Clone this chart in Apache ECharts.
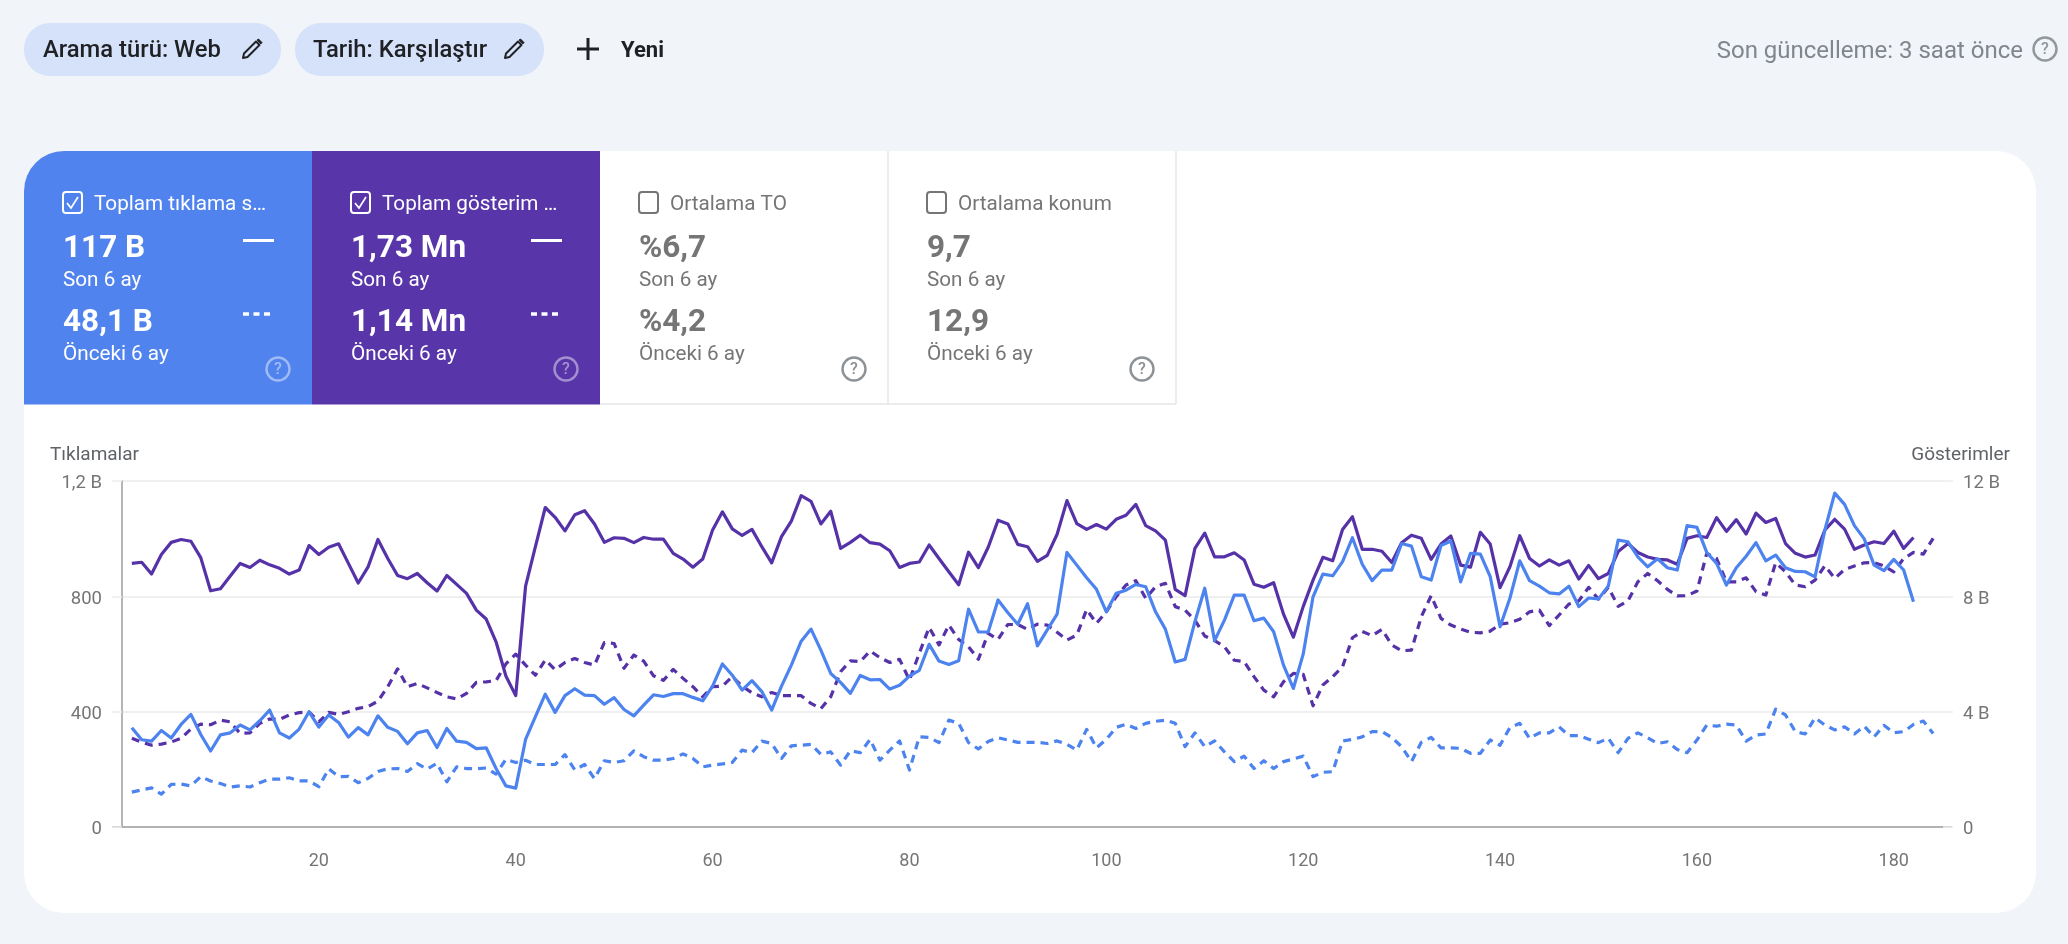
<!DOCTYPE html>
<html lang="tr">
<head>
<meta charset="utf-8">
<title>Arama performansı</title>
<script src="https://cdn.jsdelivr.net/npm/echarts@6/dist/echarts.min.js"></script>
<style>
html,body{margin:0;padding:0;background:#f1f4f9;width:2068px;height:944px;overflow:hidden}
#chart{width:2068px;height:944px}
</style>
</head>
<body>
<div id="chart"></div>
<script>
// Tıklamalar (son 6 ay), left axis
const clicksCurrent = [344,302,297,334,308,355,390,320,263,319,326,353,336,368,405,326,308,339,399,346,388,362,311,344,319,385,345,331,288,326,334,275,341,297,293,271,274,202,142,134,
303,382,460,397,455,479,457,455,425,448,407,385,422,458,452,462,462,449,437,488,565,526,474,507,469,405,488,561,644,686,613,532,501,463,525,510,511,478,491,523,543,633,575,563,576,755,676,676,787,743,703,774,628,
683,738,952,908,864,824,746,810,821,841,833,746,686,572,581,712,828,646,717,804,804,715,724,677,561,480,599,798,877,871,920,1003,911,854,891,891,983,974,868,856,976,992,850,949,946,868,694,793,923,
854,835,812,808,835,764,794,791,836,995,989,937,902,930,899,891,1045,1039,952,914,839,899,939,986,923,943,899,886,885,867,1030,1158,1119,1045,999,908,889,928,891,781];
// Tıklamalar (önceki 6 ay), left axis
const clicksPrevious = [120,128,135,113,147,148,142,174,159,150,138,142,138,153,165,165,170,159,159,139,201,174,175,153,168,192,201,202,192,219,200,220,156,208,202,201,204,183,234,223,
231,216,216,216,250,197,216,167,229,223,229,263,243,231,231,237,253,237,208,214,218,223,266,257,297,289,237,281,283,286,251,260,214,264,257,303,231,266,298,197,312,310,292,370,359,292,270,296,309,301,293,293,293,
289,298,286,266,338,274,303,345,356,341,359,366,370,359,278,326,278,298,260,226,245,202,229,202,226,235,245,174,189,191,298,303,312,330,330,310,278,226,293,310,274,274,272,255,255,301,283,344,359,
307,326,326,347,316,316,304,292,307,257,307,326,309,289,295,268,257,301,353,349,356,353,297,318,322,408,388,330,322,378,353,336,347,322,349,312,352,326,330,355,367,324];
// Gösterimler (son 6 ay), right axis, in B
const impressionsCurrent = [9.14,9.18,8.77,9.45,9.87,9.97,9.91,9.34,8.19,8.26,8.70,9.14,9.00,9.25,9.09,8.97,8.77,8.91,9.76,9.45,9.70,9.82,9.14,8.46,9.02,9.97,9.31,8.72,8.61,8.79,8.47,8.18,8.72,8.41,8.10,7.52,7.21,6.42,5.23,4.55,
8.35,9.72,11.08,10.74,10.27,10.83,10.97,10.51,9.87,10.03,10.01,9.86,10.04,9.98,9.98,9.49,9.29,9.01,9.29,10.30,10.93,10.34,10.11,10.32,9.72,9.16,10.07,10.61,11.49,11.29,10.51,10.95,9.66,9.87,10.12,9.86,9.81,9.58,9.00,9.14,9.19,9.78,9.31,8.85,8.40,9.53,8.99,9.70,10.64,10.51,9.80,9.72,9.21,
9.42,10.15,11.32,10.52,10.32,10.49,10.33,10.67,10.81,11.19,10.45,10.27,9.95,8.24,8.02,9.66,10.19,9.37,9.37,9.51,9.26,8.42,8.31,8.47,7.38,6.58,7.64,8.56,9.35,9.23,10.32,10.76,9.63,9.63,9.56,9.17,9.86,10.12,10.01,9.28,9.81,10.09,9.08,9.01,10.22,9.81,8.30,9.02,10.10,
9.31,9.05,9.26,9.08,9.23,8.60,9.07,8.61,8.79,9.55,9.83,9.52,9.36,9.28,9.26,9.11,10.01,10.10,10.04,10.73,10.25,10.66,10.16,10.88,10.56,10.70,9.83,9.49,9.36,9.43,10.30,10.67,10.33,9.63,9.78,9.89,9.83,10.26,9.66,10.04];
// Gösterimler (önceki 6 ay), right axis, in B
const impressionsPrevious = [3.07,2.94,2.83,2.87,2.94,3.07,3.39,3.56,3.54,3.70,3.64,3.24,3.26,3.59,3.74,3.73,3.88,3.96,3.99,3.64,3.97,3.90,3.99,4.11,4.17,4.36,4.86,5.48,4.86,4.97,4.82,4.66,4.51,4.44,4.63,5.01,5.03,5.07,5.65,5.99,
5.61,5.26,5.79,5.45,5.70,5.84,5.70,5.61,6.39,6.36,5.50,5.96,5.75,5.24,5.08,5.46,5.15,4.86,4.51,4.86,4.88,5.21,4.88,4.65,4.51,4.66,4.55,4.55,4.55,4.28,4.10,4.51,5.38,5.76,5.73,6.10,5.87,5.70,5.81,5.09,6.02,6.92,6.31,7.00,6.50,6.25,5.81,6.71,6.50,7.02,7.02,6.85,7.03,
7.00,6.75,6.48,6.65,7.54,7.06,7.46,7.98,8.39,8.54,7.93,8.33,8.45,7.64,7.52,7.17,6.62,6.46,6.25,5.78,5.73,5.21,4.74,4.51,5.03,5.32,5.29,4.20,4.92,5.21,5.55,6.56,6.78,6.63,6.85,6.31,6.11,6.13,7.29,8.02,7.23,7.00,6.86,6.75,6.73,6.79,7.03,7.08,7.20,
7.46,7.52,6.98,7.35,7.73,7.84,8.31,7.90,8.31,7.65,7.84,8.50,8.79,8.54,8.24,8.01,8.02,8.18,9.49,9.31,8.50,8.50,8.64,8.16,8.04,9.16,8.85,8.39,8.33,8.56,9.06,8.62,8.93,9.05,9.16,9.17,9.05,8.85,9.31,9.52,9.46,10.01];

const xTickLabels = [20,40,60,80,100,120,140,160,180];
const leftTickLabels = {0:'0',400:'400',800:'800',1200:'1,2 B'};
const rightTickLabels = {0:'0',4:'4 B',8:'8 B',12:'12 B'};

const scorecards = [
  {title:'Toplam tıklama s…', current:'117 B', previous:'48,1 B', active:true, fill:'#5083ed'},
  {title:'Toplam gösterim …', current:'1,73 Mn', previous:'1,14 Mn', active:true, fill:'#5835a8'},
  {title:'Ortalama TO', current:'%6,7', previous:'%4,2', active:false, fill:'#ffffff'},
  {title:'Ortalama konum', current:'9,7', previous:'12,9', active:false, fill:'#ffffff'}
];

const FONT = 'Roboto, sans-serif';
const BLUE = '#4c83ef', PURPLE = '#5632a8', GREY = '#757575';
const TEXT_DY = 2.5;
const g = [];
const rect = (x,y,w,h,fill,r,extra) => g.push(Object.assign({type:'rect',silent:true,shape:{x,y,width:w,height:h,r:r||0},style:{fill}},extra||{}));
const text = (x,y,t,fill,size,weight,align) => g.push({type:'text',silent:true,x,y:y+TEXT_DY,style:{text:t,fill,font:(weight||400)+' '+size+'px '+FONT,textAlign:align||'left',textVerticalAlign:'middle'}});
const line = (x1,y1,x2,y2,stroke,w,dash,cap) => g.push({type:'line',silent:true,shape:{x1,y1,x2,y2},style:{stroke,lineWidth:w,lineDash:dash||null,lineCap:cap||'butt'}});
const help = (cx,cy,color,op) => {
  g.push({type:'circle',silent:true,shape:{cx,cy,r:11.5},style:{fill:'none',stroke:color,lineWidth:2.4,opacity:op}});
  g.push({type:'text',silent:true,x:cx,y:cy+1,style:{text:'?',fill:color,opacity:op,font:'500 16px '+FONT,textAlign:'center',textVerticalAlign:'middle'}});
};
const pencil = (x,y,color) => {
  g.push({type:'polygon',silent:true,shape:{points:[[x,y+19],[x+1,y+14.5],[x+13,y+2.5],[x+16.5,y+6],[x+4.5,y+18]]},style:{fill:'none',stroke:color,lineWidth:2,lineJoin:'round'}});
  g.push({type:'polygon',silent:true,shape:{points:[[x+14,y+1],[x+15.5,y],[x+19,y+3.5],[x+17.8,y+5]]},style:{fill:color,stroke:color,lineWidth:1}});
};

// filter bar
rect(24,23,257,53,'#d5e2fa',26);
text(43,49,'Arama türü: Web','#202124',23.8,500);
pencil(243,39,'#202124');
rect(295,23,249,53,'#d5e2fa',26);
text(313,49,'Tarih: Karşılaştır','#202124',23.8,500);
pencil(505,39,'#202124');
line(588,38,588,60,'#202124',3);
line(577,49,599,49,'#202124',3);
text(621,49,'Yeni','#202124',22,700);
text(2023,49,'Son güncelleme: 3 saat önce','#80868b',24,400,'right');
help(2045,49,'#80868b',0.85);

// card + scorecards
rect(24,151,2012,762,'#ffffff',40);
scorecards.forEach((c,i)=>{
  const x0 = 24 + i*288;
  if(c.active){
    rect(x0,151,288,253.5,c.fill,i===0?[40,0,0,0]:0);
  }else{
    line(x0+288,151,x0+288,404,'#e4e6e9',1.5);
    line(x0,404,x0+288,404,'#e4e6e9',1.5);
  }
  const fg = c.active ? '#ffffff' : GREY;
  rect(x0+39,192,19,21,'none',3,{style:{fill:'none',stroke:fg,lineWidth:2}});
  if(c.active){
    g.push({type:'polyline',silent:true,shape:{points:[[x0+43,203],[x0+47,208],[x0+54,197]]},style:{fill:'none',stroke:fg,lineWidth:1.7}});
  }
  text(x0+70,202,c.title,fg,20.7,400);
  text(x0+39,247,c.current,fg,31.5,700);
  text(x0+39,278,'Son 6 ay',fg,20.7,400);
  text(x0+39,321,c.previous,fg,31.5,700);
  text(x0+39,352,'Önceki 6 ay',fg,20.7,400);
  if(c.active){
    line(x0+219,240.5,x0+250,240.5,fg,3);
    line(x0+219,314,x0+250,314,fg,3.5,[6,4.5]);
  }
  help(x0+254,369,c.active?'#ffffff':'#80868b',c.active?0.45:0.9);
});

// axis names and the dark end pieces of the zero line
text(50,453,'Tıklamalar','#5f6368',19,400);
text(2010,453,'Gösterimler','#5f6368',19,400,'right');
line(112,826.75,122,826.75,'#9e9e9e',1.5);
line(1943,826.75,1952,826.75,'#9e9e9e',1.5);

const toPoints = arr => arr.map((v,i)=>[i+1,v]);
const mkSeries = (name,data,axis,color,dashed,z) => ({
  name,type:'line',yAxisIndex:axis,data:toPoints(data),symbol:'none',silent:true,z,
  lineStyle:{color,width:3.2,type:dashed?[8,6]:'solid',join:'round'}
});
const yCommon = {
  type:'value',min:0,interval:0,
  axisLine:{show:false},
  axisTick:{show:true,length:10,lineStyle:{color:'#eeeeee',width:1.5}},
  splitLine:{show:true,lineStyle:{color:'#eeeeee',width:1.5}},
};
const yLabel = {color:GREY,fontFamily:FONT,fontSize:18.5,margin:20,verticalAlign:'top',padding:[-6.75,0,0,0]};
const chart = echarts.init(document.getElementById('chart'),null,{renderer:'canvas'});
chart.setOption({
  animation:false,
  backgroundColor:'transparent',
  grid:{left:122,right:125,top:481,height:345.75,containLabel:false},
  xAxis:{
    type:'value',min:0,max:185,interval:20,
    axisLine:{show:true,lineStyle:{color:'#9e9e9e',width:1.5}},
    axisTick:{show:false},splitLine:{show:false},
    axisLabel:{color:GREY,fontFamily:FONT,fontSize:18,margin:26,showMinLabel:false,showMaxLabel:false,
      formatter:v=>xTickLabels.includes(v)?String(v):''}
  },
  yAxis:[
    Object.assign({},yCommon,{max:1200,interval:400,position:'left',
      axisLine:{show:true,lineStyle:{color:'#9e9e9e',width:1.5}},
      axisLabel:Object.assign({},yLabel,{formatter:v=>leftTickLabels[v]})}),
    Object.assign({},yCommon,{max:12,interval:4,position:'right',
      axisLabel:Object.assign({},yLabel,{formatter:v=>rightTickLabels[v]})})
  ],
  graphic:{elements:g.map(e=>Object.assign(e,{z:-1}))},
  series:[
    mkSeries('Gösterimler (önceki)',impressionsPrevious,1,PURPLE,true,2),
    mkSeries('Tıklamalar (önceki)',clicksPrevious,0,BLUE,true,3),
    mkSeries('Gösterimler (son)',impressionsCurrent,1,PURPLE,false,4),
    mkSeries('Tıklamalar (son)',clicksCurrent,0,BLUE,false,5)
  ]
});
</script>
</body>
</html>
